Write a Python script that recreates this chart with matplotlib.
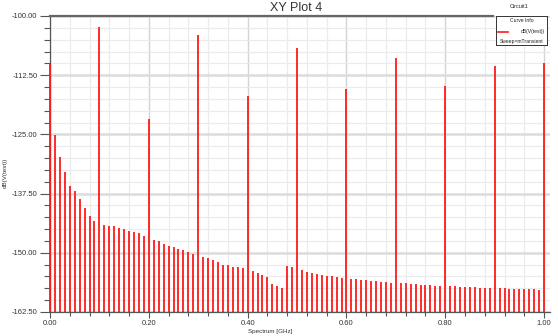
import numpy as np
import matplotlib
matplotlib.use("Agg")
import matplotlib.pyplot as plt
from matplotlib.ticker import MultipleLocator

plt.rcParams['font.family'] = ['Liberation Sans', 'DejaVu Sans']

# spectrum lines every 10 MHz, one row per 100 MHz
step_ghz = 0.01
level_db = [
    -110.1, -125.2, -129.7, -133.0, -135.8, -137.0, -138.6, -140.6, -142.2, -143.3,
    -102.4, -144.1, -144.3, -144.4, -144.7, -145.0, -145.3, -145.6, -145.9, -146.5,
    -121.7, -147.3, -147.6, -148.2, -148.5, -148.8, -149.2, -149.4, -149.9, -150.3,
    -104.0, -150.8, -151.2, -151.5, -151.9, -152.5, -152.6, -152.9, -153.1, -153.3,
    -116.9, -153.9, -154.2, -154.7, -155.2, -156.6, -157.0, -157.4, -152.8, -153.0,
    -106.7, -153.7, -154.0, -154.2, -154.5, -154.7, -154.8, -155.0, -155.2, -155.4,
    -115.4, -155.5, -155.6, -155.8, -155.8, -156.0, -156.0, -156.1, -156.1, -156.3,
    -108.8, -156.3, -156.4, -156.5, -156.6, -156.7, -156.8, -156.9, -157.0, -157.0,
    -114.7, -157.1, -157.1, -157.2, -157.2, -157.3, -157.3, -157.4, -157.4, -157.5,
    -110.5, -157.5, -157.5, -157.6, -157.6, -157.6, -157.7, -157.7, -157.7, -157.8,
    -110.0,
]
x_ticks = [0.0, 0.2, 0.4, 0.6, 0.8, 1.0]
y_ticks = [-162.5, -150.0, -137.5, -125.0, -112.5, -100.0]

freq = np.arange(len(level_db)) * step_ghz
y_min, y_max = -162.5, -100.0

fig = plt.figure(figsize=(5.58, 3.36), dpi=100)
ax = fig.add_axes([50 / 558, 1 - 312 / 336, 500 / 558, 296 / 336])

# grid: light minor lines, slightly darker majors
ax.xaxis.set_minor_locator(MultipleLocator(0.04))
ax.yaxis.set_minor_locator(MultipleLocator(2.5))
ax.grid(which='minor', color='#ebebeb', lw=0.9)
ax.grid(which='major', axis='y', color='#dcdcdc', lw=1.8)
ax.grid(which='major', axis='x', color='#d4d4d4', lw=1.0)
ax.set_axisbelow(True)

ax.vlines(freq, y_min, level_db, colors='#ff1a1a', lw=1.3, zorder=3, clip_on=False)

ax.set_xlim(0, 1.012)
ax.set_ylim(y_min, y_max)
ax.set_xticks(x_ticks)
ax.set_xticklabels(['%.2f' % v for v in x_ticks])
ax.set_yticks(y_ticks)
ax.set_yticklabels(['%.2f' % v for v in y_ticks])
ax.tick_params(which='both', direction='out', colors='#555555', labelcolor='#333333',
               labelsize=5.5, width=0.8)
ax.tick_params(axis='y', which='major', length=7, pad=2)
ax.tick_params(axis='y', which='minor', length=4)
ax.tick_params(axis='x', which='major', length=4, pad=2)
ax.tick_params(axis='x', which='minor', length=3)

for s in ['left', 'bottom']:
    ax.spines[s].set_color('#555555')
    ax.spines[s].set_linewidth(0.9)
ax.spines['right'].set_visible(False)
ax.spines['top'].set_visible(False)
# heavy top rule stops where the legend begins
ax.plot([0, (493 - 50) / 494.3], [y_max, y_max], color='#666666', lw=1.6,
        clip_on=False, zorder=4)

ax.set_xlabel('Spectrum [GHz]', fontsize=4.5, color='#333333')
ax.xaxis.set_label_coords((270 - 50) / 500, (312 - 329) / 296)
ax.set_ylabel('dB(V(test))', fontsize=4.5, color='#333333')
ax.yaxis.set_label_coords((8 - 50) / 500, 0.47)
fig.text(296 / 558, 1 - 8 / 336, 'XY Plot 4', ha='center', va='center',
         fontsize=9, color='#333333')

# small HFSS style legend box at top right
fig.text(519 / 558, 1 - 7 / 336, 'Circuit1', ha='center', va='center',
         fontsize=4, color='#222222')
lg = fig.add_axes([496 / 558, 1 - 45 / 336, 51 / 558, 29 / 336])
lg.set_xlim(0, 51)
lg.set_ylim(29, 0)
lg.set_xticks([])
lg.set_yticks([])
lg.set_facecolor('white')
for s in lg.spines.values():
    s.set_color('#333333')
    s.set_linewidth(0.7)
lg.text(25.5, 5, 'Curve Info', ha='center', va='center', fontsize=3.6, color='#222222')
lg.plot([2, 12], [16, 16], color='#ff1a1a', lw=1.2)
lg.text(49, 16, 'dB(V(test))', ha='right', va='center', fontsize=3.6, color='#222222')
lg.text(25.5, 25, 'Sweep=mTransient', ha='center', va='center', fontsize=3.6,
        color='#222222')

fig.savefig('out.png', dpi=100)
